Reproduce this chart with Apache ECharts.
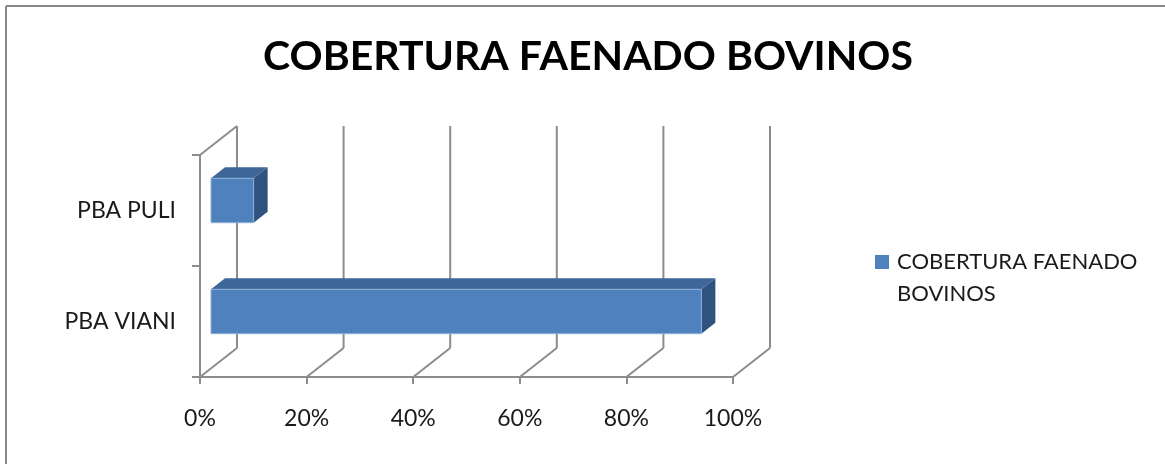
<!DOCTYPE html>
<html>
<head>
<meta charset="utf-8">
<script src="https://cdn.jsdelivr.net/npm/echarts@6/dist/echarts.min.js"></script>
<style>
  html, body { margin: 0; padding: 0; background: #fff; }
  #chart { width: 1165px; height: 464px; }
</style>
</head>
<body>
<div id="chart"></div>
<script>
// data
const categories = ['PBA VIANI', 'PBA PULI'];
const coverage = [92, 8];
const xTicks = [0, 20, 40, 60, 80, 100];
const seriesName = 'COBERTURA FAENADO BOVINOS';

const FONT = 'Lato';
const GRID_COLOR = '#8c8c8c';
// 3D depth of the box (back wall shift) and of the bar faces
const DEPTH = [37, -29];
const BAR_FRONT = [11, -10];
const BAR_BACK = [25, -21];

const chart = echarts.init(document.getElementById('chart'));

function wallItem(params, api) {
  const v = api.value(0);
  const p = api.coord([v, 0]);
  const band = api.size([0, 1])[1];
  const bottom = p[1] + band / 2;
  const top = bottom - band * categories.length;
  const x = p[0];
  const style = { stroke: GRID_COLOR, lineWidth: 2 };
  const children = [
    { type: 'line', shape: { x1: x + DEPTH[0], y1: top + DEPTH[1], x2: x + DEPTH[0], y2: bottom + DEPTH[1] }, style },
    { type: 'line', shape: { x1: x, y1: bottom, x2: x + DEPTH[0], y2: bottom + DEPTH[1] }, style }
  ];
  if (v === 0) {
    children.push({ type: 'line', shape: { x1: x, y1: top, x2: x + DEPTH[0], y2: top + DEPTH[1] }, style });
  }
  return { type: 'group', children };
}

function barItem(params, api) {
  const cat = api.value(0);
  const val = api.value(1);
  const p0 = api.coord([0, cat]);
  const p1 = api.coord([val, cat]);
  const band = api.size([0, 1])[1];
  const h = band * 0.4;
  const x0 = p0[0] + BAR_FRONT[0];
  const x1 = p1[0] + BAR_FRONT[0];
  const yTop = p0[1] + BAR_FRONT[1] - h / 2;
  const yBot = yTop + h;
  const dx = BAR_BACK[0] - BAR_FRONT[0];
  const dy = BAR_BACK[1] - BAR_FRONT[1];
  return {
    type: 'group',
    children: [
      {
        type: 'polygon',
        shape: { points: [[x0, yTop], [x1, yTop], [x1 + dx, yTop + dy], [x0 + dx, yTop + dy]] },
        style: { fill: '#3d6796' }
      },
      {
        type: 'polygon',
        shape: { points: [[x1, yTop], [x1 + dx, yTop + dy], [x1 + dx, yBot + dy], [x1, yBot]] },
        style: { fill: '#30527e' }
      },
      {
        type: 'rect',
        shape: { x: x0, y: yTop, width: x1 - x0, height: h },
        style: { fill: '#4f81bd', stroke: '#8eb1da', lineWidth: 1 }
      }
    ]
  };
}

chart.setOption({
  backgroundColor: '#fff',
  animation: false,
  title: {
    text: 'COBERTURA FAENADO BOVINOS',
    left: 583,
    textAlign: 'center',
    top: 31,
    textStyle: { fontFamily: FONT, fontSize: 41, fontWeight: 'bold', color: '#000' }
  },
  legend: {
    orient: 'vertical',
    left: 870,
    top: 209,
    itemWidth: 14,
    itemHeight: 14,
    icon: 'rect',
    data: [seriesName],
    formatter: () => '\nCOBERTURA FAENADO\nBOVINOS',
    textStyle: { fontFamily: FONT, fontSize: 22, color: '#1a1a1a', lineHeight: 32, padding: [0, 0, 0, 3] }
  },
  grid: { left: 200, top: 155, width: 533, height: 222, containLabel: false },
  xAxis: {
    type: 'value',
    min: xTicks[0],
    max: xTicks[xTicks.length - 1],
    interval: 20,
    splitLine: { show: false },
    axisLine: { show: true, lineStyle: { color: GRID_COLOR, width: 2 } },
    axisTick: { show: true, length: 7, lineStyle: { color: GRID_COLOR, width: 2 } },
    axisLabel: { formatter: '{value}%', margin: 30, fontFamily: FONT, fontSize: 23, color: '#1a1a1a' }
  },
  yAxis: {
    type: 'category',
    data: categories,
    axisLine: { show: true, lineStyle: { color: GRID_COLOR, width: 2 } },
    axisTick: { show: true, length: 8, lineStyle: { color: GRID_COLOR, width: 2 } },
    axisLabel: { margin: 24, fontFamily: FONT, fontSize: 23, color: '#1a1a1a' }
  },
  series: [
    {
      type: 'custom',
      name: 'walls',
      silent: true,
      z: 1,
      encode: { x: 0 },
      renderItem: wallItem,
      data: xTicks.map(v => [v, 0])
    },
    {
      type: 'custom',
      name: seriesName,
      z: 2,
      itemStyle: { color: '#4f81bd' },
      encode: { x: 1, y: 0 },
      renderItem: barItem,
      data: categories.map((c, i) => [i, coverage[i]])
    }
  ],
  graphic: [
    { type: 'line', shape: { x1: 6, y1: 6, x2: 1165, y2: 6 }, style: { stroke: '#8a8a8a', lineWidth: 2 } },
    { type: 'line', shape: { x1: 6, y1: 6, x2: 6, y2: 464 }, style: { stroke: '#8a8a8a', lineWidth: 2 } }
  ]
});
</script>
</body>
</html>
